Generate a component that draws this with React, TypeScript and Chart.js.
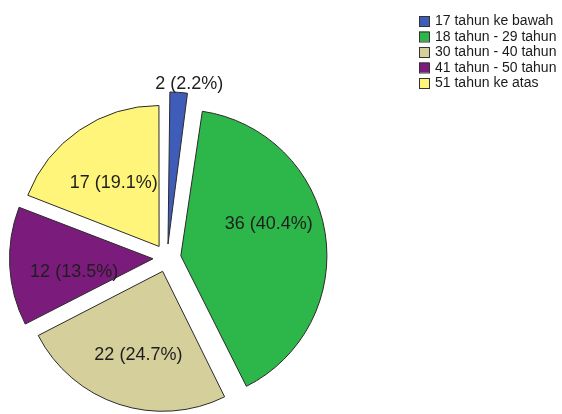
import React, { useEffect, useRef } from "react";
import { Chart, registerables } from "chart.js";

Chart.register(...registerables);

const categories: string[] = [
  "17 tahun ke bawah",
  "18 tahun - 29 tahun",
  "30 tahun - 40 tahun",
  "41 tahun - 50 tahun",
  "51 tahun ke atas",
];
const counts: number[] = [2, 36, 22, 12, 17];
const sliceColors: string[] = ["#3e5cb8", "#2db64a", "#d5cf9b", "#7b1c7d", "#fff57a"];

const OFFSET_PX = 14;
// small per-slice label nudges (style only)
const LABEL_NUDGE: [number, number][] = [[0, 0], [5, -18], [2, 4], [5, 9], [2, 6]];

const labelPlugin = {
  id: "sliceLabels",
  afterDatasetsDraw(chart: any) {
    const ctx = chart.ctx;
    const meta = chart.getDatasetMeta(0);
    const data: number[] = chart.data.datasets[0].data;
    const total = data.reduce((a, b) => a + b, 0);
    ctx.save();
    ctx.font = "18px 'Liberation Sans', Arial, sans-serif";
    ctx.fillStyle = "#1e1e1e";
    ctx.textBaseline = "middle";
    ctx.textAlign = "center";
    meta.data.forEach((arc: any, i: number) => {
      const p = arc.getProps(["x", "y", "startAngle", "endAngle", "outerRadius"], true);
      const mid = (p.startAngle + p.endAngle) / 2;
      const ax = p.x + Math.cos(mid) * OFFSET_PX;
      const ay = p.y + Math.sin(mid) * OFFSET_PX;
      const pct = ((data[i] / total) * 100).toFixed(1);
      const text = `${data[i]} (${pct}%)`;
      const share = data[i] / total;
      let tx: number, ty: number;
      if (share < 0.05) {
        tx = ax + Math.cos(mid) * (p.outerRadius + 20) + 10;
        ty = ay + Math.sin(mid) * (p.outerRadius + 20);
      } else {
        const d = p.outerRadius * 0.6;
        tx = ax + Math.cos(mid) * d;
        ty = ay + Math.sin(mid) * d;
      }
      const n = LABEL_NUDGE[i] || [0, 0];
      ctx.fillText(text, tx + n[0], ty + n[1]);
    });
    ctx.restore();
  },
};

const legendPlugin = {
  id: "sideLegend",
  afterDraw(chart: any) {
    const ctx = chart.ctx;
    const labels: string[] = chart.data.labels;
    const colors: string[] = chart.data.datasets[0].backgroundColor;
    const x0 = chart.width - 143;
    const y0 = 16;
    const row = 15.5;
    ctx.save();
    ctx.font = "14px 'Liberation Sans', Arial, sans-serif";
    ctx.textBaseline = "middle";
    ctx.textAlign = "left";
    labels.forEach((lab, i) => {
      const y = y0 + i * row;
      ctx.fillStyle = colors[i];
      ctx.fillRect(x0, y, 10, 10);
      ctx.strokeStyle = "#333";
      ctx.lineWidth = 1;
      ctx.strokeRect(x0 + 0.5, y + 0.5, 10, 10);
      ctx.fillStyle = "#1a1a1a";
      ctx.fillText(lab, x0 + 16, y + 5.5);
    });
    ctx.restore();
  },
};

export default function App() {
  const ref = useRef<HTMLCanvasElement | null>(null);
  useEffect(() => {
    if (!ref.current) return;
    const chart = new Chart(ref.current, {
      type: "pie",
      data: {
        labels: categories,
        datasets: [
          {
            data: counts,
            backgroundColor: sliceColors,
            borderColor: "#2a2a2a",
            borderWidth: 1,
            offset: OFFSET_PX * 4,
            radius: 140,
            clip: false,
          } as any,
        ],
      },
      options: {
        animation: false,
        responsive: false,
        layout: { padding: { left: 0, right: 228, top: 102, bottom: 0 } },
        plugins: {
          legend: { display: false },
          tooltip: { enabled: false },
        },
      },
      plugins: [labelPlugin, legendPlugin],
    });
    return () => chart.destroy();
  }, []);
  return (
    <div style={{ position: "absolute", left: 0, top: 0, width: 562, height: 414, background: "#fff" }}>
      <canvas ref={ref} width={562} height={414} />
    </div>
  );
}
